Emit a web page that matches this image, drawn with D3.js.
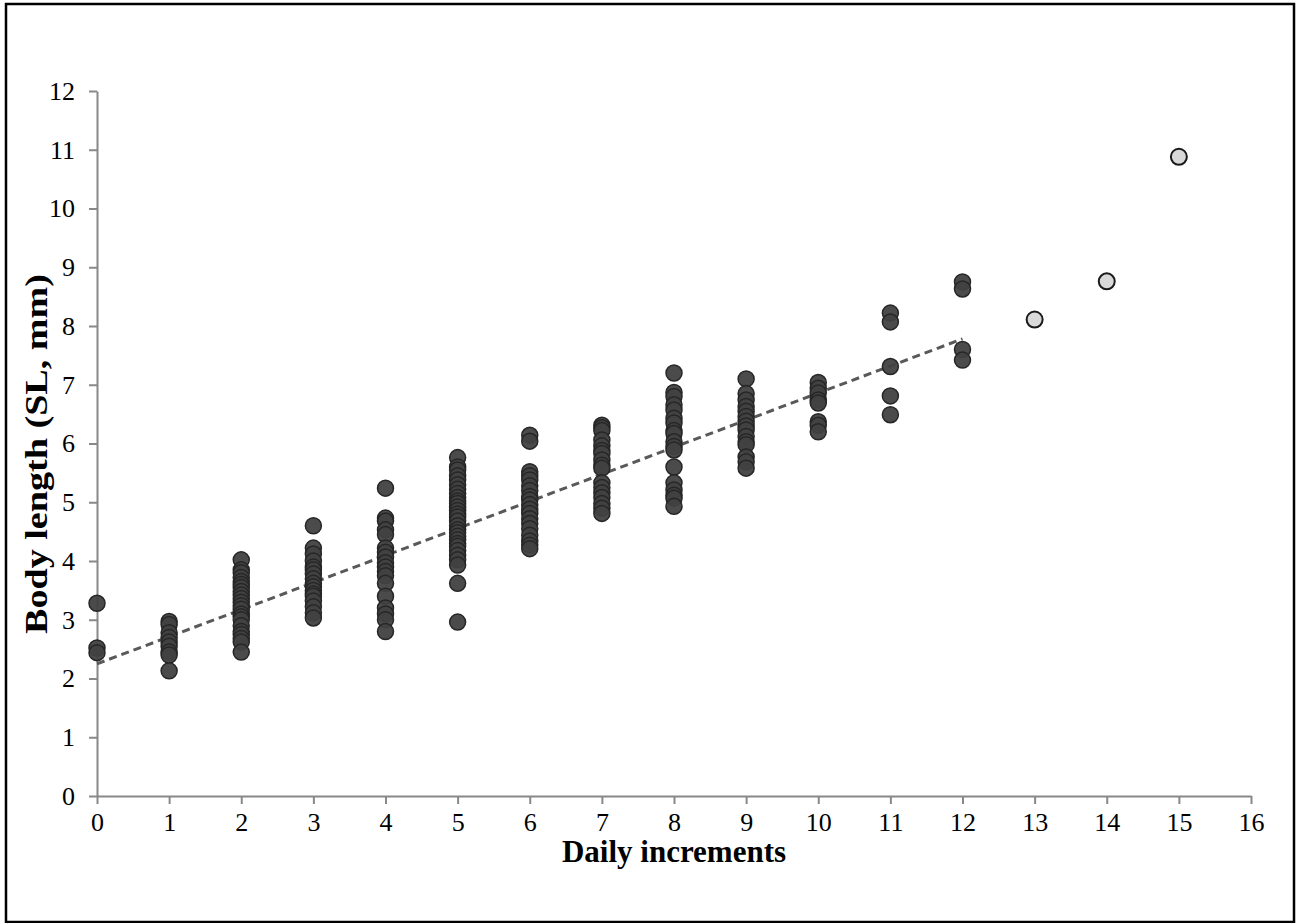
<!DOCTYPE html>
<html>
<head>
<meta charset="utf-8">
<script src="https://cdn.jsdelivr.net/npm/d3@7"></script>
<style>
  body { margin: 0; background: #fff; }
  #dataViz { width: 1299px; height: 923px; }
  text { font-family: "Liberation Serif", "Times New Roman", serif; }
</style>
</head>
<body>
<div id="dataViz"></div>
<script>
const margin = { top: 91, right: 48, bottom: 127, left: 97 };
const width = 1299;
const height = 923;

const colours = {
  "point": "#414141",
  "pointStroke": "#262626",
  "extra": "#d9d9d9",
  "extraStroke": "#1a1a1a",
  "axis": "#888888",
  "trend": "#595959"
};

// Body length per daily increment (dark points)
const days = [0, 1, 2, 3, 4, 5, 6, 7, 8, 9, 10, 11, 12];
const lengths = [
  [3.28, 2.52, 2.44],
  [2.97, 2.92, 2.78, 2.70, 2.62, 2.55, 2.45, 2.40, 2.13],
  [4.02, 3.85, 3.80, 3.72, 3.65, 3.60, 3.55, 3.48, 3.42, 3.36, 3.30, 3.24, 3.18, 3.10, 3.05, 3.00, 2.90, 2.80, 2.75, 2.68, 2.62, 2.45],
  [4.60, 4.22, 4.12, 4.00, 3.90, 3.85, 3.78, 3.70, 3.62, 3.56, 3.50, 3.44, 3.40, 3.32, 3.22, 3.12, 3.03],
  [5.24, 4.73, 4.68, 4.53, 4.45, 4.22, 4.15, 4.07, 3.97, 3.90, 3.82, 3.75, 3.62, 3.40, 3.20, 3.10, 3.00, 2.80],
  [5.76, 5.60, 5.55, 5.45, 5.38, 5.30, 5.22, 5.15, 5.08, 5.02, 4.98, 4.92, 4.86, 4.80, 4.75, 4.68, 4.60, 4.53, 4.48, 4.42, 4.36, 4.30, 4.25, 4.18, 4.10, 4.02, 3.93, 3.62, 2.96],
  [6.14, 6.04, 5.52, 5.45, 5.38, 5.28, 5.20, 5.10, 5.04, 4.96, 4.88, 4.81, 4.72, 4.64, 4.55, 4.44, 4.34, 4.27, 4.21],
  [6.31, 6.27, 6.22, 6.06, 5.96, 5.88, 5.83, 5.72, 5.63, 5.58, 5.33, 5.25, 5.16, 5.08, 4.98, 4.90, 4.81],
  [7.20, 6.87, 6.80, 6.66, 6.57, 6.43, 6.35, 6.22, 6.17, 6.03, 5.95, 5.89, 5.60, 5.33, 5.21, 5.12, 5.07, 4.93],
  [7.10, 6.85, 6.74, 6.63, 6.55, 6.46, 6.38, 6.30, 6.23, 6.12, 6.03, 5.98, 5.77, 5.69, 5.58],
  [7.04, 6.94, 6.86, 6.74, 6.69, 6.37, 6.31, 6.20],
  [8.22, 8.07, 7.31, 6.81, 6.49],
  [8.75, 8.63, 7.60, 7.42]
];

// Light points
const extraDays = [13, 14, 15];
const extraLengths = [8.11, 8.76, 10.88];

// Trend line end points
const trendDays = [0, 12];
const trendLengths = [2.25, 7.78];

const xTicks = d3.range(0, 17);
const yTicks = d3.range(0, 13);

const points = [];
days.forEach((d, i) => lengths[i].forEach(v => points.push({ day: d, length: v })));
const extras = extraDays.map((d, i) => ({ day: d, length: extraLengths[i] }));
const trend = trendDays.map((d, i) => ({ day: d, length: trendLengths[i] }));

const svg = d3.select("#dataViz").append("svg")
  .attr("width", width)
  .attr("height", height)
  .attr("viewBox", [0, 0, width, height]);

// Outer frame
svg.append("rect")
  .attr("x", 6)
  .attr("y", 4)
  .attr("width", 1288)
  .attr("height", 918)
  .attr("fill", "none")
  .attr("stroke", "#000")
  .attr("stroke-width", 2.5);

const xScale = d3.scaleLinear()
  .domain([0, 16])
  .range([margin.left, width - margin.right]);

const yScale = d3.scaleLinear()
  .domain([0, 12])
  .range([height - margin.bottom, margin.top]);

const xAxis = d3.axisBottom(xScale)
  .tickValues(xTicks)
  .tickSizeInner(8)
  .tickSizeOuter(0)
  .tickPadding(9);

const yAxis = d3.axisLeft(yScale)
  .tickValues(yTicks)
  .tickSizeInner(8)
  .tickSizeOuter(0)
  .tickPadding(14);

const gx = svg.append("g")
  .attr("transform", `translate(0, ${height - margin.bottom})`)
  .call(xAxis);

const gy = svg.append("g")
  .attr("transform", `translate(${margin.left}, 0)`)
  .call(yAxis);

[gx, gy].forEach(g => {
  g.select(".domain").attr("stroke", colours.axis).attr("stroke-width", 2);
  g.selectAll(".tick line").attr("stroke", colours.axis).attr("stroke-width", 2);
  g.selectAll(".tick text")
    .attr("fill", "#000")
    .style("font-family", "'Liberation Serif', serif")
    .style("font-size", "26px");
});

// Trend line
const line = d3.line()
  .x(d => xScale(d.day))
  .y(d => yScale(d.length));

svg.append("path")
  .datum(trend)
  .attr("fill", "none")
  .attr("stroke", colours.trend)
  .attr("stroke-width", 3)
  .attr("stroke-dasharray", "8,5")
  .attr("d", line);

// Dark points
svg.selectAll(".pt")
  .data(points)
  .enter()
  .append("circle")
  .attr("class", "pt")
  .attr("cx", d => xScale(d.day))
  .attr("cy", d => yScale(d.length))
  .attr("r", 8)
  .attr("fill", colours.point)
  .attr("fill-opacity", 0.95)
  .attr("stroke", colours.pointStroke)
  .attr("stroke-width", 1.5);

// Light points
svg.selectAll(".extra")
  .data(extras)
  .enter()
  .append("circle")
  .attr("class", "extra")
  .attr("cx", d => xScale(d.day))
  .attr("cy", d => yScale(d.length))
  .attr("r", 8)
  .attr("fill", colours.extra)
  .attr("stroke", colours.extraStroke)
  .attr("stroke-width", 2);

// Axis titles
svg.append("text")
  .attr("x", xScale(8))
  .attr("y", 862)
  .attr("text-anchor", "middle")
  .style("font-size", "31px")
  .style("font-weight", "bold")
  .text("Daily increments");

svg.append("text")
  .attr("transform", `translate(47, 454) rotate(-90)`)
  .attr("text-anchor", "middle")
  .attr("textLength", 360)
  .attr("lengthAdjust", "spacingAndGlyphs")
  .style("font-size", "32px")
  .style("font-weight", "bold")
  .text("Body length (SL, mm)");
</script>
</body>
</html>
